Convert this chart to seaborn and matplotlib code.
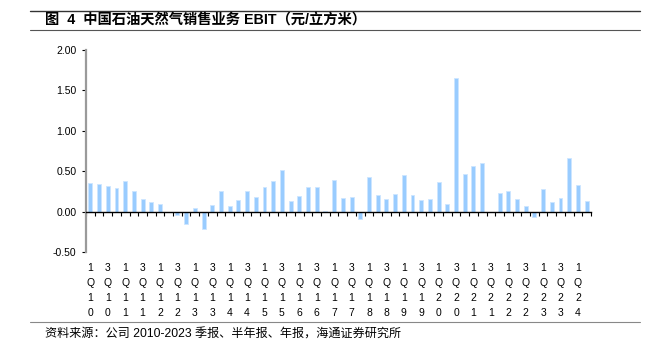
import numpy as np
import pandas as pd
import matplotlib
matplotlib.use("Agg")
import matplotlib.pyplot as plt
from matplotlib.lines import Line2D
import seaborn as sns

quarters = ["1Q10", "2Q10", "3Q10", "4Q10",
            "1Q11", "2Q11", "3Q11", "4Q11",
            "1Q12", "2Q12", "3Q12", "4Q12",
            "1Q13", "2Q13", "3Q13", "4Q13",
            "1Q14", "2Q14", "3Q14", "4Q14",
            "1Q15", "2Q15", "3Q15", "4Q15",
            "1Q16", "2Q16", "3Q16", "4Q16",
            "1Q17", "2Q17", "3Q17", "4Q17",
            "1Q18", "2Q18", "3Q18", "4Q18",
            "1Q19", "2Q19", "3Q19", "4Q19",
            "1Q20", "2Q20", "3Q20", "4Q20",
            "1Q21", "2Q21", "3Q21", "4Q21",
            "1Q22", "2Q22", "3Q22", "4Q22",
            "1Q23", "2Q23", "3Q23", "4Q23",
            "1Q24", "2Q24"]
ebit = [0.35, 0.34, 0.32, 0.29,
        0.38, 0.25, 0.16, 0.12,
        0.10, -0.01, -0.045, -0.15,
        0.05, -0.22, 0.08, 0.26,
        0.066, 0.14, 0.26, 0.18,
        0.31, 0.38, 0.51, 0.13,
        0.19, 0.31, 0.30, 0.01,
        0.39, 0.17, 0.18, -0.09,
        0.43, 0.20, 0.15, 0.22,
        0.45, 0.21, 0.14, 0.15,
        0.37, 0.10, 1.65, 0.46,
        0.56, 0.60, np.nan, 0.23,
        0.26, 0.15, 0.066, -0.07,
        0.28, 0.12, 0.17, 0.66,
        0.33, 0.13]
y_ticks = [-0.5, 0.0, 0.5, 1.0, 1.5, 2.0]
title_text = "图  4  中国石油天然气销售业务 EBIT（元/立方米）"
source_text = "资料来源：公司 2010-2023 季报、半年报、年报，海通证券研究所"

sns.set_theme(style="white")
plt.rcParams['font.family'] = ['Liberation Sans', 'Noto Sans CJK SC', 'DejaVu Sans']
plt.rcParams['axes.unicode_minus'] = False

W, H = 668, 357
fig = plt.figure(figsize=(W / 100, H / 100), dpi=100)
ax = fig.add_axes([86 / W, 1 - 252 / H, (591 - 86) / W, (252 - 50) / H])

df = pd.DataFrame({"q": quarters, "v": ebit})
sns.barplot(data=df, x="q", y="v", order=quarters, color="#99CCFF",
            saturation=1, width=0.45, edgecolor="#CDE5FF", linewidth=0.6,
            errorbar=None, ax=ax)

n = len(quarters)
ax.set_xlim(-0.5, n - 0.5)
ax.set_ylim(-0.5, 2.0)
ax.set_yticks(y_ticks)
ax.set_yticklabels([f"{t:.2f}" for t in y_ticks])
ax.set_xlabel("")
ax.set_ylabel("")

for s in ["top", "right"]:
    ax.spines[s].set_visible(False)
ax.spines["left"].set_color("#9A9A9A")
ax.spines["left"].set_linewidth(1.6)
ax.spines["bottom"].set_position(("data", 0))
ax.spines["bottom"].set_color("black")
ax.spines["bottom"].set_linewidth(1.0)

ax.set_xticks(np.arange(-0.5, n, 1.0))
ax.set_xticklabels([])
ax.tick_params(axis="x", bottom=True, direction="out", length=3, width=0.8, color="black")
ax.tick_params(axis="y", left=True, direction="out", length=3, width=0.8, color="black",
               labelsize=7.5, pad=4, labelcolor="black")

sec = ax.secondary_xaxis(0)
sec.set_xticks(np.arange(0, n, 2), labels=["\n".join(q) for q in quarters[0::2]])
sec.spines["bottom"].set_visible(False)
sec.tick_params(length=0, pad=8, labelsize=7.5, labelcolor="black")
for lab in sec.get_xticklabels():
    lab.set_linespacing(1.6)

fig.add_artist(Line2D([30 / W, 640 / W], [1 - 11 / H] * 2, color="#333333", lw=1.0))
fig.add_artist(Line2D([30 / W, 640 / W], [1 - 30 / H] * 2, color="#555555", lw=0.8))
fig.add_artist(Line2D([30 / W, 640 / W], [1 - 322 / H] * 2, color="#888888", lw=0.8))

fig.text(45 / W, 1 - 21 / H, title_text, fontsize=10.3, fontweight="bold",
         ha="left", va="center", color="black")
fig.text(45 / W, 1 - 335 / H, source_text, fontsize=8.7, ha="left", va="center",
         color="black")

fig.savefig("out.png", dpi=100)
